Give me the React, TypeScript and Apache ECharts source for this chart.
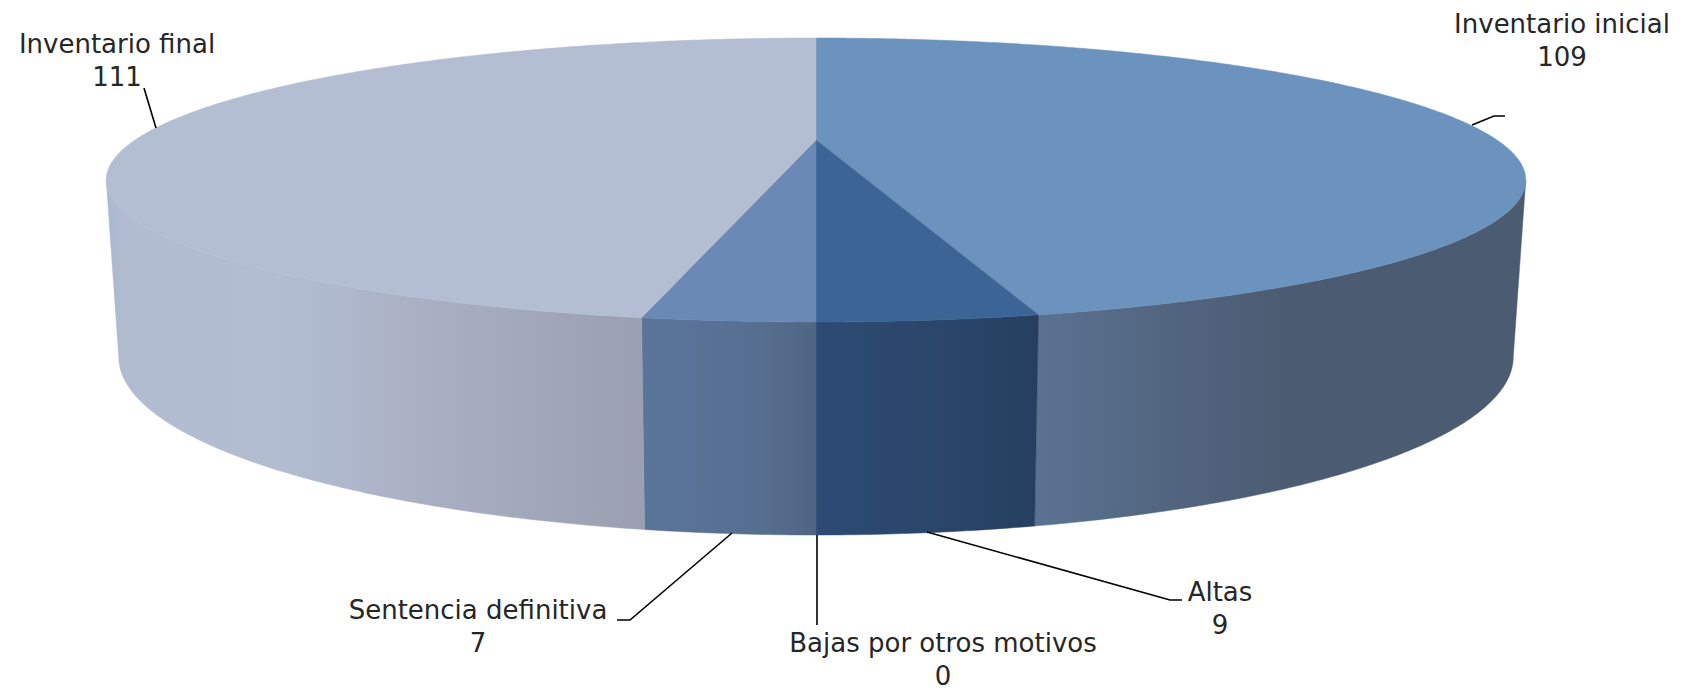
import React, { useEffect, useRef } from "react";
import * as echarts from "echarts";

const categories = ["Inventario inicial", "Altas", "Bajas por otros motivos", "Sentencia definitiva", "Inventario final"];
const values = [109, 9, 0, 7, 111];
const topColors = ["#6c93bd", "#3c6596", "#3c6596", "#6a89b5", "#b3bed3"];
const wallStops: [number, string][][] = [
  [[1039, "#5a7291"], [1170, "#526580"], [1290, "#4b5b72"], [1527, "#4b5b72"]],
  [[817, "#2c4a73"], [950, "#2a4569"], [1039, "#263f60"]],
  [[817, "#4f6583"], [817, "#4f6583"]],
  [[642, "#5b749b"], [760, "#566e90"], [817, "#4f6583"]],
  [[106, "#a9b7cd"], [125, "#b1bcd1"], [280, "#b2bdd2"], [432, "#a9afc3"], [642, "#9aa0b1"]],
];
const labelAnchors: [number, number][] = [[1562, 24], [1220, 592], [943, 643], [478, 610], [117, 44]];
const leaders: [number, number][][] = [
  [[1472, 125], [1494, 116], [1505, 116]],
  [[927, 532], [1170, 600], [1182, 600]],
  [[817, 535], [817, 625]],
  [[732, 533], [630, 620], [617, 620]],
  [[156, 128], [144, 88]],
];

const CX = 816;
const KX_TOP = 681;
const KX_BOT = 669;
const C = 0.2817;
const FONT = "'DejaVu Sans'";

const total = values.reduce((a, b) => a + b, 0);
const DEG = Math.PI / 180;
const tangent = Math.acos(-C) / DEG;

function solve(yBack: number, yFront: number) {
  const s = yBack * (1 + C);
  const d = yFront * (1 - C);
  return { b: (s + d) / 2, a: (s - d) / 2 };
}
const topY = solve(38, 322);
const botY = solve(179, 535);

function project(thetaDeg: number, plane: "top" | "bot"): [number, number] {
  const u = Math.sin(thetaDeg * DEG);
  const v = Math.cos(thetaDeg * DEG);
  const w = 1 + C * v;
  const p = plane === "top" ? topY : botY;
  const k = plane === "top" ? KX_TOP : KX_BOT;
  return [CX + (k * u) / w, (p.a * v + p.b) / w];
}

function arc(a0: number, a1: number, plane: "top" | "bot") {
  const n = Math.max(2, Math.ceil(Math.abs(a1 - a0) / 0.5));
  const out: [number, number][] = [];
  for (let i = 0; i <= n; i++) out.push(project(a0 + ((a1 - a0) * i) / n, plane));
  return out;
}

function sliceAngles(index: number) {
  let cum = 0;
  for (let i = 0; i < index; i++) cum += values[i];
  return [(cum / total) * 360, ((cum + values[index]) / total) * 360];
}

function renderWall(params: any, api: any) {
  const i = params.dataIndex;
  if (!api.value(0)) return { type: "group", children: [] };
  const [s, e] = sliceAngles(i);
  const a0 = Math.max(s, tangent);
  const a1 = Math.min(e, 360 - tangent);
  if (a1 <= a0) return { type: "group", children: [] };
  const pts = [...arc(a0, a1, "top"), ...arc(a1, a0, "bot")];
  const stops = wallStops[i];
  const x0 = stops[0][0];
  const x1 = stops[stops.length - 1][0];
  const fill = new echarts.graphic.LinearGradient(
    x0, 0, x1, 0,
    stops.map(([x, color]) => ({ offset: (x - x0) / (x1 - x0), color })),
    true
  );
  return { type: "polygon", shape: { points: pts }, style: { fill, stroke: fill, lineWidth: 0.5 } };
}

function renderTop(params: any, api: any) {
  const i = params.dataIndex;
  if (!api.value(0)) return { type: "group", children: [] };
  const [s, e] = sliceAngles(i);
  const pts = [[CX, topY.b], ...arc(s, e, "top")];
  const c = topColors[i];
  return { type: "polygon", shape: { points: pts }, style: { fill: c, stroke: c, lineWidth: 0.5 } };
}

export default function App() {
  const ref = useRef<HTMLDivElement>(null);
  useEffect(() => {
    const chart = echarts.init(ref.current!, undefined, { renderer: "svg" });
    const seriesData = values.map((v, i) => ({ name: categories[i], value: [v] }));
    const graphic: any[] = [];
    leaders.forEach((pts) => {
      graphic.push({
        type: "polyline",
        z: 10,
        shape: { points: pts },
        style: { fill: "none", stroke: "#000000", lineWidth: 1.6 },
      });
    });
    categories.forEach((name, i) => {
      const [x, y] = labelAnchors[i];
      [name, String(values[i])].forEach((t, j) => {
        graphic.push({
          type: "text",
          z: 11,
          x,
          y: y + j * 33,
          style: {
            text: t,
            fill: "#262626",
            font: `400 26px ${FONT}`,
            align: "center",
            verticalAlign: "middle",
          },
        });
      });
    });
    chart.setOption({
      animation: false,
      backgroundColor: "#ffffff",
      series: [
        { type: "custom", coordinateSystem: "none", silent: true, z: 1, data: seriesData, renderItem: renderWall },
        { type: "custom", coordinateSystem: "none", silent: true, z: 2, data: seriesData, renderItem: renderTop },
      ],
      graphic,
    });
    return () => chart.dispose();
  }, []);
  return <div ref={ref} style={{ position: "fixed", left: 0, top: 0, width: 1693, height: 691 }} />;
}
